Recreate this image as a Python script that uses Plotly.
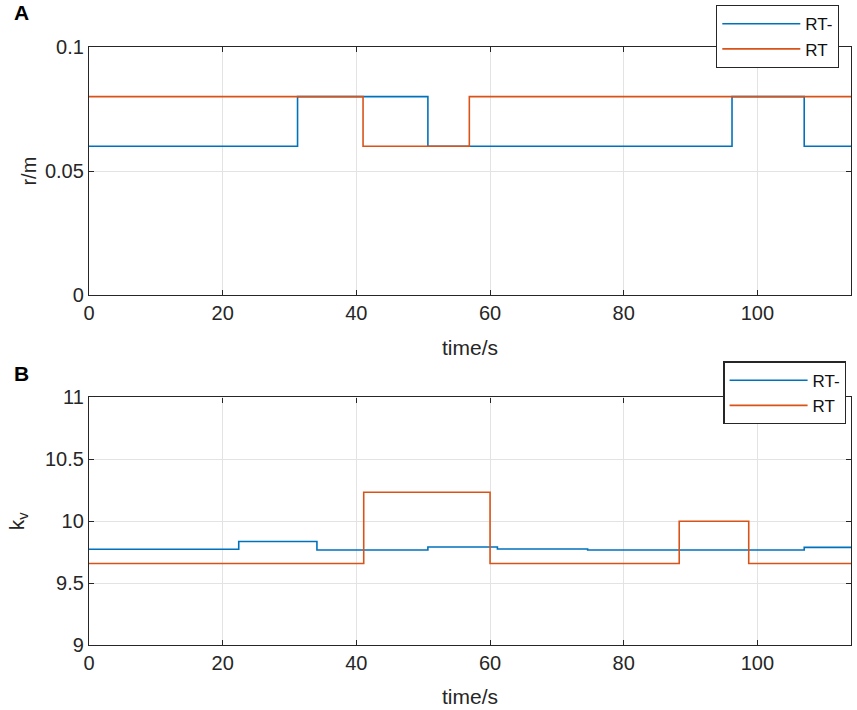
import plotly.graph_objects as go
from plotly.subplots import make_subplots

# panel A: radius r/m, step changes over time
t_r_minus = [0, 31.2, 50.7, 96.2, 107.0, 114]
r_minus = [0.06, 0.08, 0.06, 0.08, 0.06, 0.06]
t_r = [0, 41.0, 56.9, 114]
r_rt = [0.08, 0.06, 0.08, 0.08]

# panel B: k_v
t_k_minus = [0, 22.4, 34.1, 50.7, 61.1, 74.6, 107.0, 114]
k_minus = [9.773, 9.836, 9.768, 9.792, 9.776, 9.768, 9.789, 9.789]
t_k = [0, 41.1, 60.0, 88.3, 98.7, 114]
k_rt = [9.658, 10.234, 9.658, 10.0, 9.658, 9.658]

x_ticks = [0, 20, 40, 60, 80, 100]
blue = '#0072BD'
orange = '#D95319'
axis_col = '#262626'
grid_col = '#e3e3e3'
font = 'Liberation Sans, Arial, sans-serif'

fig = make_subplots(rows=2, cols=1, vertical_spacing=0.17)

fig.add_trace(go.Scatter(x=t_r_minus, y=r_minus, mode='lines', line_shape='hv',
                         line=dict(color=blue, width=1.6), name='RT-', legend='legend'),
              row=1, col=1)
fig.add_trace(go.Scatter(x=t_r, y=r_rt, mode='lines', line_shape='hv',
                         line=dict(color=orange, width=1.6), name='RT', legend='legend'),
              row=1, col=1)
fig.add_trace(go.Scatter(x=t_k_minus, y=k_minus, mode='lines', line_shape='hv',
                         line=dict(color=blue, width=1.6), name='RT-', legend='legend2'),
              row=2, col=1)
fig.add_trace(go.Scatter(x=t_k, y=k_rt, mode='lines', line_shape='hv',
                         line=dict(color=orange, width=1.6), name='RT', legend='legend2'),
              row=2, col=1)

axis_style = dict(showline=True, linecolor=axis_col, linewidth=1.3, mirror='ticks',
                  ticks='inside', ticklen=5, tickcolor=axis_col, showgrid=True,
                  gridcolor=grid_col, gridwidth=1, zeroline=False, automargin=False,
                  tickfont=dict(family=font, size=20, color=axis_col))

fig.update_xaxes(range=[0, 114], tickvals=x_ticks, **axis_style)
fig.update_xaxes(title=dict(text='time/s', font=dict(family=font, size=21, color=axis_col),
                            standoff=16))
fig.update_yaxes(**axis_style)
fig.update_yaxes(range=[0, 0.1], tickvals=[0, 0.05, 0.1], ticktext=['0', '0.05', '0.1'],
                 title=dict(text='r/m', font=dict(family=font, size=20, color=axis_col),
                            standoff=2),
                 row=1, col=1)
fig.update_yaxes(range=[9, 11], tickvals=[9, 9.5, 10, 10.5, 11],
                 ticktext=['9', '9.5', '10', '10.5', '11'],
                 title=dict(text='k<sub>v</sub>', font=dict(family=font, size=21, color=axis_col),
                            standoff=14),
                 row=2, col=1)

fig.update_layout(xaxis=dict(domain=[0, 1]), yaxis=dict(domain=[0.585, 1.0]),
                  xaxis2=dict(domain=[0, 1]), yaxis2=dict(domain=[0.0, 0.414]))

legend_style = dict(bgcolor='white', bordercolor=axis_col, borderwidth=1.3,
                    font=dict(family=font, size=17, color='#111111'),
                    xref='container', yref='container',
                    xanchor='right', yanchor='top', tracegroupgap=0, itemwidth=78)

fig.update_layout(
    width=857, height=710,
    margin=dict(l=89, r=6, t=47, b=65, autoexpand=False),
    paper_bgcolor='white', plot_bgcolor='white',
    showlegend=True,
    legend=dict(x=0.979, y=0.993, **legend_style),
    legend2=dict(x=0.9875, y=0.491, **legend_style),
    annotations=[
        dict(text='<b>A</b>', x=-0.089, y=1.0585, xref='paper', yref='paper',
             showarrow=False, xanchor='center', yanchor='middle',
             font=dict(family=font, size=21, color='black')),
        dict(text='<b>B</b>', x=-0.089, y=0.4548, xref='paper', yref='paper',
             showarrow=False, xanchor='center', yanchor='middle',
             font=dict(family=font, size=21, color='black')),
    ],
)

# page body has an 8px default margin; drop it so the figure fills the window
fig.write_html('out.html', config={'displayModeBar': False},
               post_script="document.body.style.margin='0';")
